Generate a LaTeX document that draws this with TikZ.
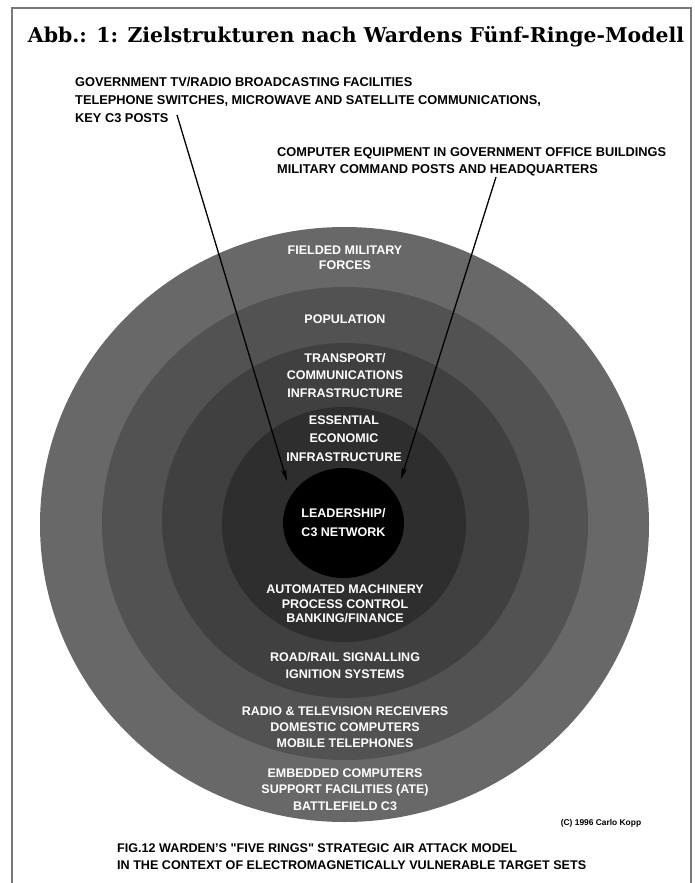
\documentclass[tikz,border=0pt]{standalone}
\usepackage{fontspec}
\setmainfont{Liberation Sans}
\newfontfamily\titlefont{DejaVu Serif}
\newfontfamily\capfont[Ligatures=TeXOff]{Liberation Sans}
\usetikzlibrary{arrows.meta,shapes.geometric}
\definecolor{ringA}{RGB}{104,104,104}
\definecolor{ringB}{RGB}{82,82,82}
\definecolor{ringC}{RGB}{64,64,64}
\definecolor{ringD}{RGB}{46,46,46}
\definecolor{framegray}{RGB}{120,120,120}
\tikzset{
  lbl/.style={text=white, align=center, inner sep=0pt, font=\bfseries\fontsize{12.5}{#1}\selectfont},
  lbl/.default=16.5,
  toptext/.style={text=black, align=left, inner sep=0pt, anchor=west, font=\bfseries\fontsize{12.8}{#1}\selectfont},
  toptext/.default=18,
  arr/.style={line width=1.3pt, -{Stealth[length=12pt,width=5.5pt]}},
}
\begin{document}
\begin{tikzpicture}[x=1pt,y=-1pt]
\useasboundingbox (0,0) rectangle (694,883);
\fill[white] (0,0) rectangle (694,883);
% frame
\draw[framegray, line width=1.5pt] (12,883) -- (12,8) -- (691,8) -- (691,883);
% title
\node[anchor=base, inner sep=0pt] (title) at (356,43)
  {\resizebox{656pt}{!}{\titlefont\bfseries Abb.: 1: Zielstrukturen nach Wardens Fünf-Ringe-Modell}};
% rings
\fill[ringA] (344.5,524.5) ellipse [x radius=304.5pt, y radius=297.5pt];
\fill[ringB] (345,523.5) ellipse [x radius=243pt, y radius=236.5pt];
\fill[ringC] (345.5,520.5) ellipse [x radius=183.5pt, y radius=177.5pt];
\fill[ringD] (344,524.5) ellipse [x radius=122pt, y radius=117.5pt];
\node[ellipse, fill=black, minimum width=121pt, minimum height=110pt, inner sep=0pt,
      text=white, align=center, font=\bfseries\fontsize{12.5}{19}\selectfont] (lead) at (343.5,523)
  {LEADERSHIP/\\C3 NETWORK};
% ring labels
\node[lbl=15] (fielded) at (345,258) {FIELDED MILITARY\\FORCES};
\node[lbl] (pop) at (345,319) {POPULATION};
\node[lbl=17.5] (transport) at (345,375.5) {TRANSPORT/\\COMMUNICATIONS\\INFRASTRUCTURE};
\node[lbl=18.5] (essential) at (344,438.5) {ESSENTIAL\\ECONOMIC\\INFRASTRUCTURE};
\node[lbl=14.5] (auto) at (345,604) {AUTOMATED MACHINERY\\PROCESS CONTROL\\BANKING/FINANCE};
\node[lbl=17] (road) at (345,665.5) {ROAD/RAIL SIGNALLING\\IGNITION SYSTEMS};
\node[lbl=16] (radio) at (345,727) {RADIO \& TELEVISION RECEIVERS\\DOMESTIC COMPUTERS\\MOBILE TELEPHONES};
\node[lbl=16.5] (embedded) at (345,789.5) {EMBEDDED COMPUTERS\\SUPPORT FACILITIES (ATE)\\BATTLEFIELD C3};
% top texts
\node[toptext=18] (govt) at (75,100)
  {GOVERNMENT TV/RADIO BROADCASTING FACILITIES\\TELEPHONE SWITCHES, MICROWAVE AND SATELLITE COMMUNICATIONS,\\KEY C3 POSTS};
\node[toptext=17] (comp) at (277,161.5)
  {COMPUTER EQUIPMENT IN GOVERNMENT OFFICE BUILDINGS\\MILITARY COMMAND POSTS AND HEADQUARTERS};
% arrows
\coordinate (s1) at (177,115);
\coordinate (t1) at (287,481);
\coordinate (s2) at (496,177);
\coordinate (t2) at (401,479);
\draw[arr] (s1) -- (t1);
\draw[arr] (s2) -- (t2);
% copyright and caption
\node[inner sep=0pt, font=\bfseries\fontsize{8.4}{10}\selectfont] (copy) at (601,823) {(C) 1996 Carlo Kopp};
\node[anchor=west, align=left, inner sep=0pt, font=\capfont\bfseries\fontsize{12.6}{17}\selectfont] (caption) at (117,856.5)
  {FIG.12 WARDEN’S "FIVE RINGS" STRATEGIC AIR ATTACK MODEL\\IN THE CONTEXT OF ELECTROMAGNETICALLY VULNERABLE TARGET SETS};
\end{tikzpicture}
\end{document}
